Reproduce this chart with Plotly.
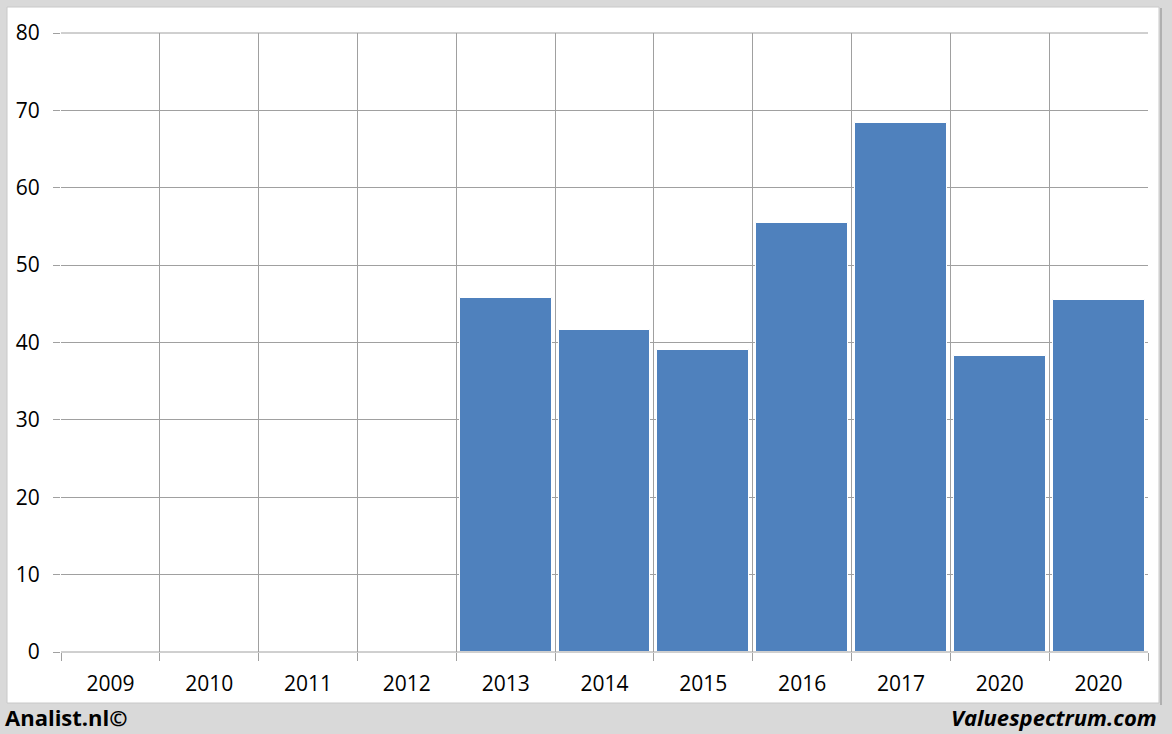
import plotly.graph_objects as go

categories = ["2009", "2010", "2011", "2012", "2013", "2014", "2015", "2016", "2017", "2020", "2020"]
values = [None, None, None, None, 45.8, 41.6, 39.0, 55.4, 68.4, 38.2, 45.5]
y_ticks = [0, 10, 20, 30, 40, 50, 60, 70, 80]

x_pos = list(range(len(categories)))

W, H = 1172, 734
L, R, T, B = 61, 24, 33, 82
pw, ph = W - L - R, H - T - B

def px(x):
    return (x - L) / pw

def py(y):
    return (H - B - y) / ph

fig = go.Figure()
fig.add_trace(go.Bar(
    x=x_pos, y=values, width=0.93,
    marker=dict(color="#4f81bd", line=dict(color="#ffffff", width=1)),
    hoverinfo="y",
))

font = "Open Sans, DejaVu Sans, sans-serif"
grid = "#a0a0a0"

fig.update_layout(
    width=W, height=H,
    margin=dict(l=L, r=R, t=T, b=B),
    paper_bgcolor="#d9d9d9",
    plot_bgcolor="#ffffff",
    showlegend=False,
    bargap=0,
    font=dict(family=font, size=21, color="#000000"),
    xaxis=dict(
        range=[-0.5, len(categories) - 0.5],
        tickmode="array", tickvals=x_pos, ticktext=categories,
        showgrid=False, ticks="", zeroline=False,
        showline=False,
        ticklabelstandoff=17,
        tickfont=dict(size=21, family=font),
        minor=dict(tickmode="linear", tick0=-0.5, dtick=1, showgrid=True,
                   gridcolor=grid, gridwidth=1, ticks="outside",
                   ticklen=8, tickcolor=grid, tickwidth=1),
        fixedrange=True,
    ),
    yaxis=dict(
        range=[0, 80], tickmode="array", tickvals=y_ticks,
        showgrid=True, gridcolor=grid, gridwidth=1,
        ticks="outside", ticklen=7, tickcolor=grid,
        zeroline=False, showline=False,
        ticklabelstandoff=9,
        tickfont=dict(size=21, family=font),
        fixedrange=True,
    ),
    shapes=[
        dict(type="rect", xref="paper", yref="paper", layer="below",
             x0=px(7), x1=px(1159), y0=py(703), y1=py(7),
             fillcolor="#ffffff", line=dict(color="#c8c8c8", width=1)),
        dict(type="line", xref="paper", yref="paper", layer="below",
             x0=px(1161), x1=px(1161), y0=py(705), y1=py(8),
             line=dict(color="#b0b0b0", width=2)),
        dict(type="line", xref="paper", yref="paper", layer="above",
             x0=0, x1=1, y0=0, y1=0, line=dict(color=grid, width=1)),
        dict(type="line", xref="paper", yref="paper", layer="above",
             x0=0, x1=1, y0=1, y1=1, line=dict(color=grid, width=1)),
    ],
    annotations=[
        dict(text="<b>Analist.nl©</b>", xref="paper", yref="paper",
             x=px(3), y=py(717), xanchor="left", yanchor="middle",
             showarrow=False, font=dict(size=22, family=font, color="#000000")),
        dict(text="<b><i>Valuespectrum.com</i></b>", xref="paper", yref="paper",
             x=px(1159), y=py(717), xanchor="right", yanchor="middle",
             showarrow=False, font=dict(size=22, family=font, color="#000000")),
    ],
)

fig.write_html("out.html", config={"displayModeBar": False},
               post_script="document.body.style.margin='0';document.body.style.overflow='hidden';")
